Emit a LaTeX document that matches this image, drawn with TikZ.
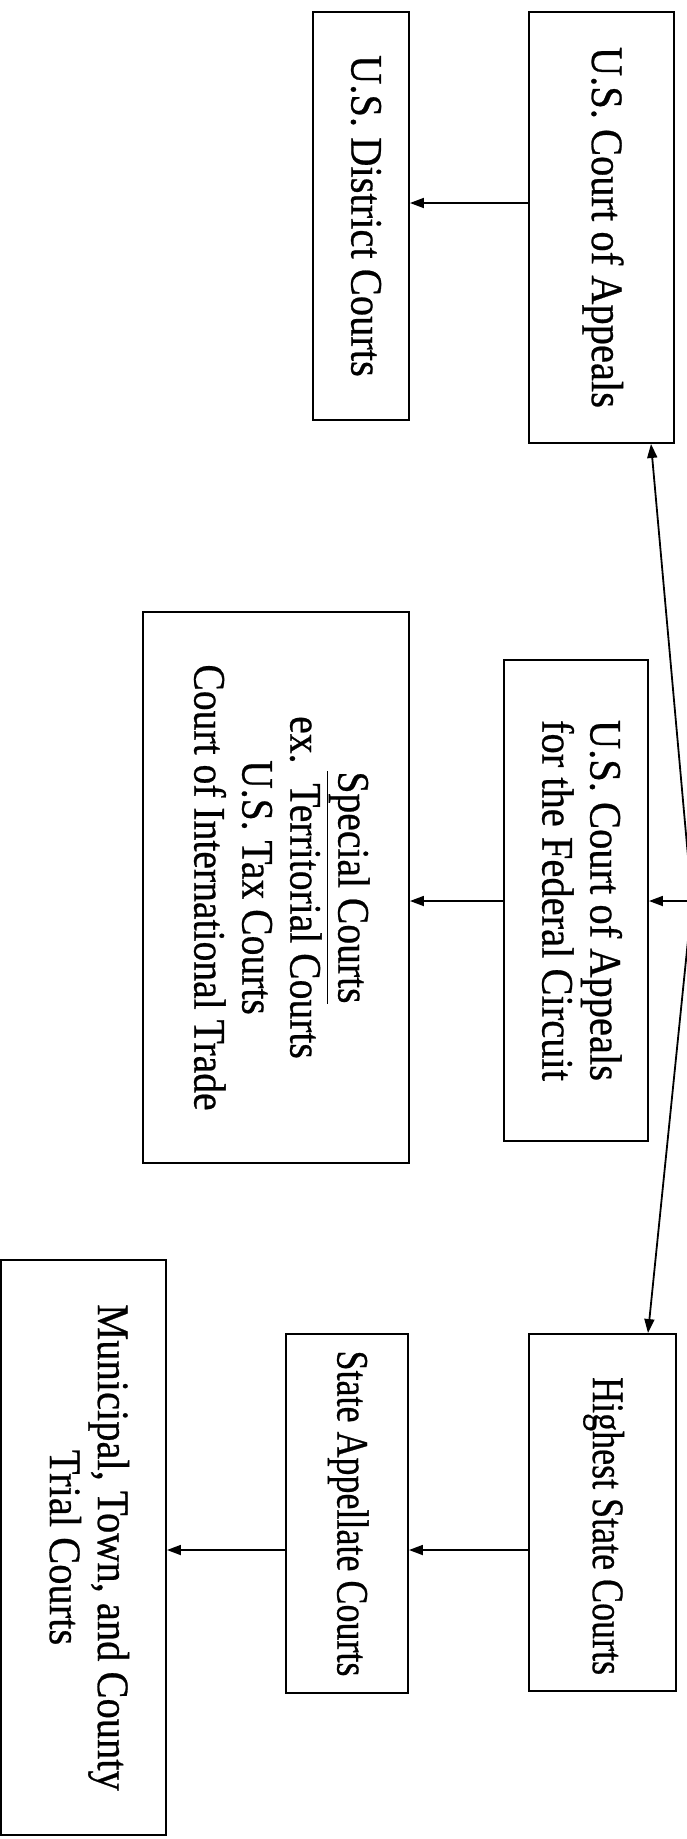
\documentclass[tikz,border=0pt]{standalone}
\usepackage{fontspec}
\setmainfont{Liberation Serif}
\newfontfamily\scanfont{Liberation Serif}[FakeBold=0.6]
\usetikzlibrary{arrows.meta,calc}
% #1 = compression along the reading direction, #2 = lines
\newcommand\vtext[2]{\rotatebox{-90}{\scalebox{#1}[1]{\begin{tabular}{@{}c@{}}#2\end{tabular}}}}
\begin{document}
\begin{tikzpicture}[x=1pt,y=1pt,
  box/.style={draw, line width=1.9pt, inner sep=0pt, font=\scanfont\fontsize{45}{48}\selectfont},
  arr/.style={line width=1.8pt, -{Triangle[length=14pt,width=10pt]}}]
\useasboundingbox (0,0) rectangle (687,-1839);
\fill[white] (0,0) rectangle (687,-1839);
% boxes
\node[box, minimum width=145pt, minimum height=431pt] (coa) at (601.5,-227.5) {\vtext{0.9}{U.S. Court of Appeals}};
\node[box, minimum width=96pt, minimum height=408pt] (dist) at (361,-216) {\vtext{0.9}{U.S. District Courts}};
\node[box, minimum width=144pt, minimum height=481pt] (fed) at (576,-900.5) {\vtext{0.9}{U.S. Court of Appeals\\for the Federal Circuit}};
\node[box, minimum width=266pt, minimum height=551pt] (spec) at (276,-887.5) {\vtext{0.88}{\underline{Special Courts}\\ex.\ \ Territorial Courts\\U.S. Tax Courts\\Court of International Trade}};
\node[box, minimum width=147pt, minimum height=357pt] (high) at (602.5,-1512.5) {\vtext{0.8}{\hspace*{34pt}Highest State Courts}};
\node[box, minimum width=122pt, minimum height=359pt] (app) at (347,-1513.5) {\vtext{0.8}{State Appellate Courts}};
\node[box, minimum width=165pt, minimum height=575pt] (mun) at (83.5,-1547.5) {\vtext{0.9}{Municipal, Town, and County\\Trial Courts}};
% helper coordinates
\coordinate (sc) at (692,-901);
\coordinate (r1) at (0,-203);
\coordinate (r3) at (0,-1550);
% connectors
\draw[arr] (sc) -- ($(coa.south)+(49.5,0)$);
\draw[arr] (sc) -- ($(high.north)+(45.5,0)$);
\draw[arr] (sc) -- (fed.east |- sc);
\draw[arr] (coa.west |- r1) -- (dist.east |- r1);
\draw[arr] (fed.west |- sc) -- (spec.east |- sc);
\draw[arr] (high.west |- r3) -- (app.east |- r3);
\draw[arr] (app.west |- r3) -- (mun.east |- r3);
\end{tikzpicture}
\end{document}
